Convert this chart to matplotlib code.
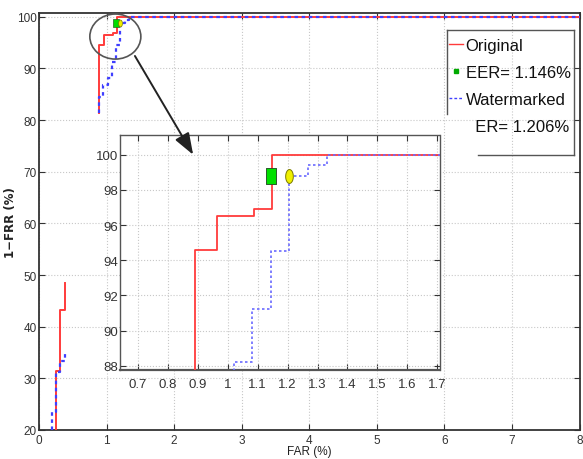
import numpy as np
import matplotlib
matplotlib.use("Agg")
import matplotlib.pyplot as plt
from matplotlib.patches import Ellipse, ConnectionPatch
from matplotlib.lines import Line2D
from matplotlib.path import Path

# ---------------- data ----------------
far_original = [0.25, 0.25, 0.31, 0.38, np.nan, 0.89, 0.89, 0.963, 1.089, 1.149, 8.0]
gar_original = [20.0, 31.4, 43.2, 48.5, np.nan, 81.3, 94.6, 96.5, 96.9, 100.0, 100.0]

far_watermarked = [0.19, 0.19, 0.25, 0.31, 0.38, np.nan, 0.885, 0.885, 0.95, 1.02,
                   1.083, 1.146, 1.206, 1.268, 1.333, 8.0]
gar_watermarked = [20.0, 23.5, 31.2, 33.4, 35.1, np.nan, 81.3, 84.4, 86.8, 88.2,
                   91.2, 94.5, 98.8, 99.4, 100.0, 100.0]

eer_original = (1.146, 98.8)
eer_watermarked = (1.206, 98.8)

main_xticks = list(range(0, 9))
main_yticks = list(range(20, 101, 10))
inset_xticks = [0.7, 0.8, 0.9, 1.0, 1.1, 1.2, 1.3, 1.4, 1.5, 1.6, 1.7]
inset_xticklabels = ["0.7", "0.8", "0.9", "1", "1.1", "1.2", "1.3", "1.4", "1.5", "1.6", "1.7"]
inset_yticks = [88, 90, 92, 94, 96, 98, 100]

legend_labels = ["Original", "EER= 1.146%", "Watermarked", "  ER= 1.206%"]

# ---------------- style ----------------
W, H = 583, 460
narrow = ["Liberation Sans Narrow", "Liberation Sans", "DejaVu Sans"]
RED = "#ff3b3b"
BLUE = "#3f3fff"
BLUE_IN = "#6a6aff"
GRID = "#c8c8c8"
SPINE = "#333333"

rect_marker = Path([(-0.62, -1), (0.62, -1), (0.62, 1), (-0.62, 1), (-0.62, -1)],
                   [Path.MOVETO, Path.LINETO, Path.LINETO, Path.LINETO, Path.CLOSEPOLY])
t = np.linspace(0, 2 * np.pi, 40)
ell_marker = Path(np.column_stack([0.55 * np.cos(t), np.sin(t)]))

fig = plt.figure(figsize=(W / 100, H / 100), dpi=100)
fig.patch.set_facecolor("white")

def px(x0, y0, x1, y1):
    return [x0 / W, 1 - y1 / H, (x1 - x0) / W, (y1 - y0) / H]

# ---------------- main axes ----------------
ax = fig.add_axes(px(39, 14, 579.5, 431))
ax.plot(far_original, gar_original, color=RED, lw=1.4, drawstyle="steps-post", zorder=3)
ax.plot(far_watermarked, gar_watermarked, color=BLUE, lw=1.6, ls=(0, (1.6, 1.6)),
        drawstyle="steps-post", zorder=3)
ax.plot(*eer_original, marker=rect_marker, ms=6, mfc="#00dd00", mec="#226622", mew=0.5, zorder=4)
ax.plot(*eer_watermarked, marker=ell_marker, ms=5, mfc="#eeee00", mec="#777700", mew=0.5, zorder=4)
ax.set_xlim(0, 8)
ax.set_ylim(20, 100.72)
ax.set_xticks(main_xticks)
ax.set_yticks(main_yticks)
ax.tick_params(direction="in", top=True, right=True, length=4, width=0.8, pad=1.5,
               labelsize=8.5, colors=SPINE)
ax.tick_params(axis="x", pad=3)
for lab in ax.get_xticklabels() + ax.get_yticklabels():
    lab.set_family(narrow)
ax.grid(True, color=GRID, ls=":", lw=0.8)
for s in ax.spines.values():
    s.set_color(SPINE)
    s.set_linewidth(1.3)
ax.set_xlabel("FAR (%)", family=narrow, fontsize=8.5, color="#222222")
ax.xaxis.set_label_coords(0.5, -0.0365)
ax.xaxis.label.set_va("top")
ax.set_ylabel("1\u2212FRR (%)", fontsize=8.5, fontweight="bold", color="#222222")
ax.yaxis.set_label_coords(-0.041, 0.5)

# circle around the zoomed region
ax.add_patch(Ellipse((1.13, 96.16), 0.755, 8.72, fill=False, ec="#555555", lw=1.2,
                     clip_on=False, zorder=5))

# legend (frame drawn by hand as in the reference)
handles = [
    Line2D([], [], color=RED, lw=1.0),
    Line2D([], [], ls="none", marker="s", ms=2.5, mfc="#00aa00", mec="#00aa00"),
    Line2D([], [], color=BLUE, lw=1.0, ls=(0, (2, 1.5))),
    Line2D([], [], ls="none"),
]
leg = ax.legend(handles, legend_labels, loc="upper left",
                bbox_to_anchor=(449 / W, 1 - 39 / H), bbox_transform=fig.transFigure,
                frameon=False, borderpad=0, borderaxespad=0, handlelength=0.85,
                handletextpad=0.15, labelspacing=0.72,
                prop={"family": "Liberation Sans", "size": 12})
for tx in leg.get_texts():
    tx.set_color("#111111")
for (xa, ya, xb, yb) in [(447, 31, 573.5, 31), (573.5, 31, 573.5, 156),
                         (478, 156, 573.5, 156), (447, 31, 447, 115)]:
    fig.add_artist(Line2D([xa / W, xb / W], [1 - ya / H, 1 - yb / H],
                          transform=fig.transFigure, color="#555555", lw=1.0))

# ---------------- inset axes ----------------
axi = fig.add_axes(px(120, 135.5, 439.5, 370.7))
axi.plot(far_original, gar_original, color=RED, lw=1.3, drawstyle="steps-post", zorder=3)
axi.plot(far_watermarked, gar_watermarked, color=BLUE_IN, lw=1.2, ls=(0, (1.5, 1.5)),
         drawstyle="steps-post", zorder=3)
axi.plot(*eer_original, marker=rect_marker, ms=11, mfc="#00e000", mec="#2a5a2a", mew=0.7, zorder=4)
axi.plot(*eer_watermarked, marker=ell_marker, ms=10, mfc="#f0f000", mec="#7a7a00", mew=0.7, zorder=4)
axi.set_xlim(0.641, 1.707)
axi.set_ylim(87.77, 101.15)
axi.set_xticks(inset_xticks)
axi.set_xticklabels(inset_xticklabels)
axi.set_yticks(inset_yticks)
axi.tick_params(direction="in", top=True, right=True, length=4, width=0.8, pad=1,
                labelsize=9.5, colors=SPINE)
axi.tick_params(axis="x", pad=6)
for lab in axi.get_xticklabels() + axi.get_yticklabels():
    lab.set_family(narrow)
axi.grid(True, color=GRID, ls=":", lw=0.8)
for s in axi.spines.values():
    s.set_color("#555555")
    s.set_linewidth(1.0)
axi.spines["bottom"].set_linewidth(1.6)

# arrow from the circle to the inset
arrow = ConnectionPatch(xyA=(1.42, 92.4), coordsA=ax.transData,
                        xyB=(0.885, 100.0), coordsB=axi.transData,
                        arrowstyle="-|>,head_length=1.1,head_width=0.4",
                        mutation_scale=12, color="#222222", lw=1.4, zorder=6)
fig.add_artist(arrow)

fig.savefig("out.png", dpi=100, facecolor="white")
